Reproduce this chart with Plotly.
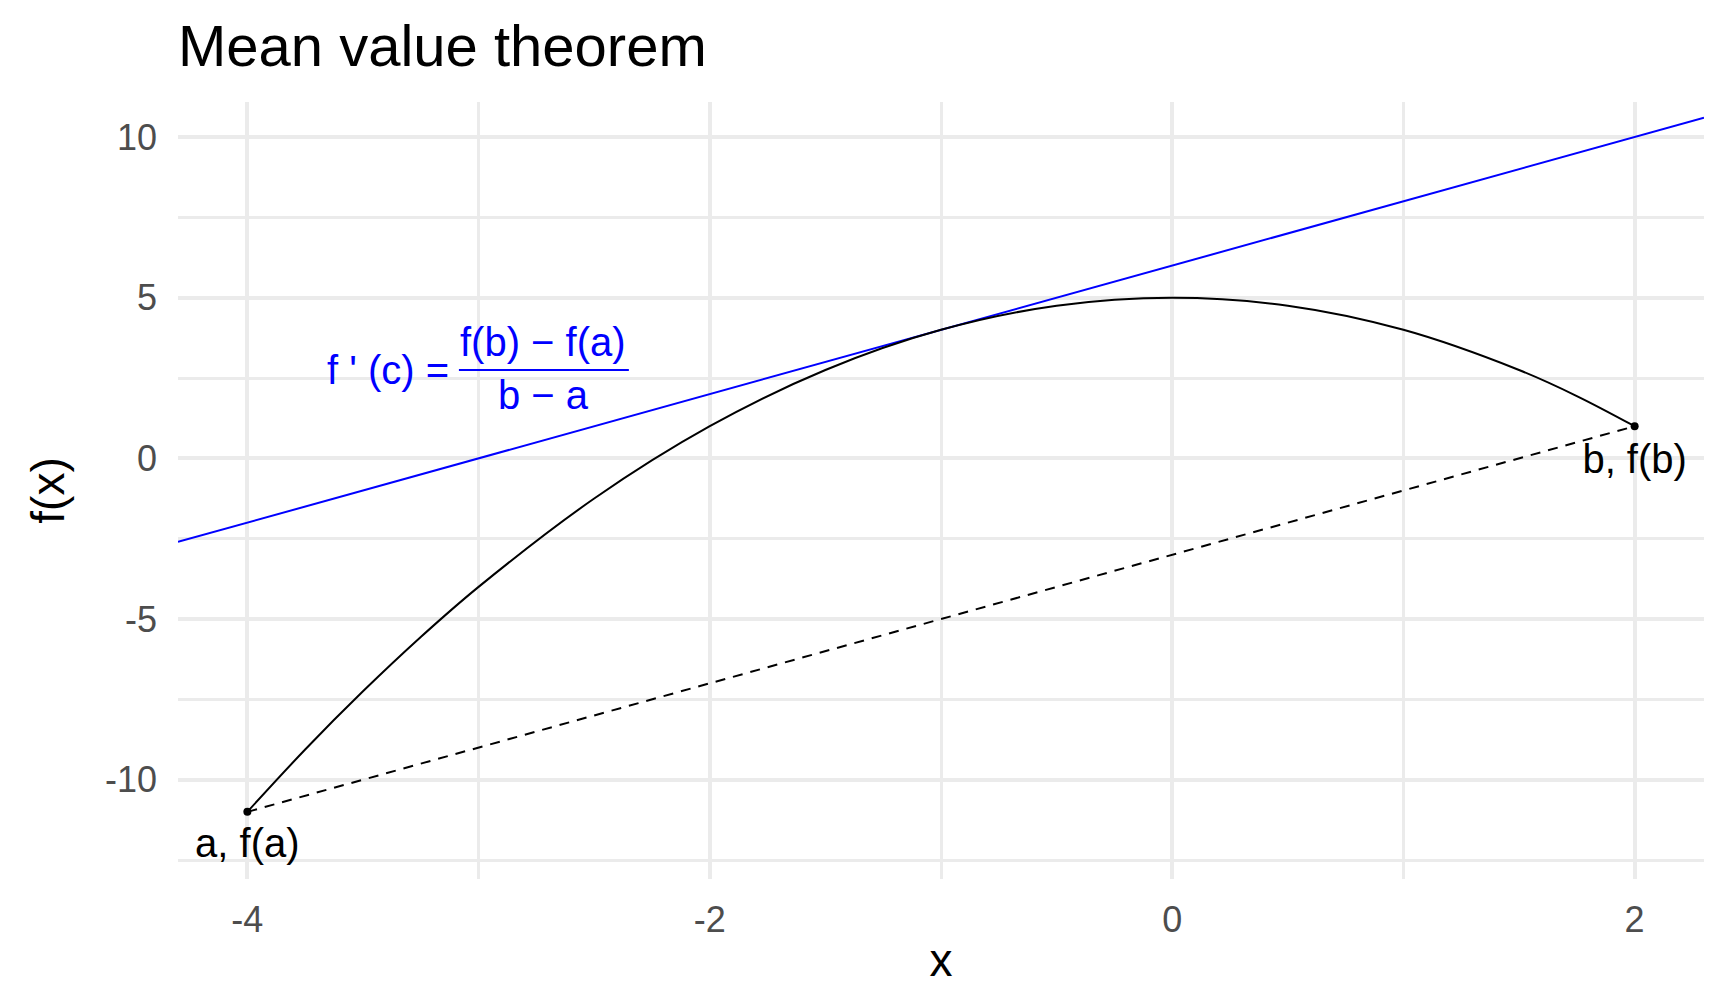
import plotly.graph_objects as go

# curve f(x)
curve_x = [-4, -3.75, -3.5, -3.25, -3, -2.5, -2, -1.5, -1, -0.5, 0, 0.5, 1, 1.5, 1.75, 2]
curve_y = [-11, -9.06, -7.25, -5.56, -4, -1.25, 1, 2.75, 4, 4.75, 5, 4.75, 4, 2.75, 1.94, 1]

# secant between the end points
secant_x = [-4, 2]
secant_y = [-11, 1]

# tangent line (blue), runs across the whole panel
tangent_x = [-4.3, 2.3]
tangent_y = [-2.6, 10.6]

# end point labels
label_x = [-4, 2]
label_y = [-12.1, -0.15]
label_text = ["a, f(a)", "b, f(b)"]

# axis ticks (plain hyphen minus, like the original)
x_ticks = [-4, -2, 0, 2]
x_ticktext = ["-4", "-2", "0", "2"]
y_ticks = [-10, -5, 0, 5, 10]
y_ticktext = ["-10", "-5", "0", "5", "10"]

FONT = "Liberation Sans, Arial, sans-serif"
GRID = "#EBEBEB"

fig = go.Figure()

fig.add_trace(go.Scatter(x=tangent_x, y=tangent_y, mode="lines",
                         line=dict(color="#0000FF", width=2), hoverinfo="skip"))
fig.add_trace(go.Scatter(x=secant_x, y=secant_y, mode="lines",
                         line=dict(color="black", width=2, dash="10px,8px"), hoverinfo="skip"))
fig.add_trace(go.Scatter(x=curve_x, y=curve_y, mode="lines",
                         line=dict(color="black", width=2, shape="spline", smoothing=1)))
fig.add_trace(go.Scatter(x=secant_x, y=secant_y, mode="markers",
                         marker=dict(color="black", size=8)))
fig.add_trace(go.Scatter(x=label_x, y=label_y, mode="text", text=label_text,
                         textposition="middle center",
                         textfont=dict(family=FONT, size=40, color="black")))

# f'(c) = (f(b) - f(a)) / (b - a)
blue = dict(family=FONT, size=40, color="#0000FF")
fig.add_annotation(x=-3.12, y=2.75, text="f ' (c) =", showarrow=False,
                   xanchor="right", yanchor="middle", font=blue)
fig.add_annotation(x=-2.72, y=3.62, text="f(b) \u2212 f(a)", showarrow=False,
                   xanchor="center", yanchor="middle", font=blue)
fig.add_annotation(x=-2.72, y=1.97, text="b \u2212 a", showarrow=False,
                   xanchor="center", yanchor="middle", font=blue)
fig.add_shape(type="line", xref="x", yref="y", x0=-3.085, x1=-2.35, y0=2.75, y1=2.75,
              line=dict(color="#0000FF", width=2))

# page body adds an 8px offset, margins compensate for it
fig.update_layout(
    width=1728, height=1008,
    paper_bgcolor="white", plot_bgcolor="white",
    showlegend=False,
    margin=dict(l=170, r=32, t=94, b=137),
    font=dict(family=FONT, color="black"),
    title=dict(text="Mean value theorem", x=170 / 1728, xanchor="left",
               xref="container", yref="container", y=1 - 38 / 1008, yanchor="middle",
               font=dict(size=58, color="black")),
)
fig.update_xaxes(
    range=[-4.3, 2.3], tickvals=x_ticks, ticktext=x_ticktext,
    showline=False, zeroline=False,
    gridcolor=GRID, gridwidth=4,
    minor=dict(dtick=1, showgrid=True, gridcolor=GRID, gridwidth=2.5),
    tickfont=dict(size=36, color="#4D4D4D"), ticklabelstandoff=16,
    title=dict(text="x", font=dict(size=46, color="black"), standoff=4),
)
fig.update_yaxes(
    range=[-13.09, 11.09], tickvals=y_ticks, ticktext=y_ticktext,
    showline=False, zeroline=False,
    gridcolor=GRID, gridwidth=4,
    minor=dict(dtick=2.5, showgrid=True, gridcolor=GRID, gridwidth=2.5),
    tickfont=dict(size=36, color="#4D4D4D"), ticklabelstandoff=20,
    title=dict(text="f(x)", font=dict(size=46, color="black"), standoff=25),
)

fig.write_html("out.html")
